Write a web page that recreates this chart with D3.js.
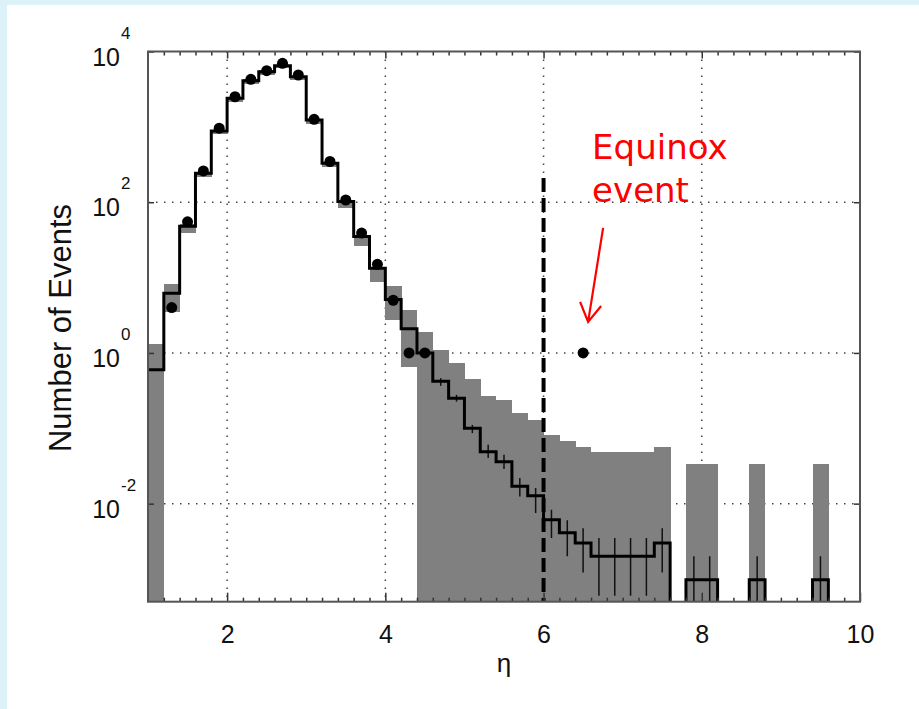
<!DOCTYPE html>
<html>
<head>
<meta charset="utf-8">
<script src="https://cdn.jsdelivr.net/npm/d3@7"></script>
<style>
  body { margin: 0; background: #ddf2f8; }
  svg { display: block; }
  .axis .tick line { stroke: #333; stroke-width: 1.5; }
  .axis text { font-family: "Liberation Sans", Arial, sans-serif; fill: #111; }
</style>
</head>
<body>
<svg id="chart" width="919" height="709"></svg>
<script>
// lower edge of each eta bin (bins are 0.2 wide)
const etaLow = [1.0, 1.2, 1.4, 1.6, 1.8, 2.0, 2.2, 2.4, 2.6, 2.8,
                3.0, 3.2, 3.4, 3.6, 3.8, 4.0, 4.2, 4.4, 4.6, 4.8,
                5.0, 5.2, 5.4, 5.6, 5.8, 6.0, 6.2, 6.4, 6.6, 6.8,
                7.0, 7.2, 7.4, 7.6, 7.8, 8.0, 8.2, 8.4, 8.6, 8.8,
                9.0, 9.2, 9.4, 9.6, 9.8];
const binWidth = 0.2;

// expected events (black histogram), 0 = empty bin
const mcEvents = [0.6, 6.2, 48, 242, 880, 2390, 4100, 5370, 6490, 4630,
                  1230, 329, 102, 35, 13.3, 5.1, 2.1, 1.0, 0.42, 0.25,
                  0.10, 0.049, 0.036, 0.017, 0.0127, 0.0061, 0.0041, 0.0030, 0.0020, 0.0020,
                  0.0020, 0.0020, 0.0030, 0, 0.00098, 0.00098, 0, 0, 0.00098, 0,
                  0, 0, 0.00098, 0, 0];

// grey band (upper / lower edge), 0 = below the axis
const bandHi = [1.31, 8.3, 52, 255, 920, 2500, 4300, 5600, 6700, 4800,
                1280, 340, 106, 37, 14, 7.7, 3.7, 1.92, 1.08, 0.73,
                0.45, 0.27, 0.234, 0.159, 0.13, 0.082, 0.067, 0.057, 0.048, 0.048,
                0.048, 0.048, 0.057, 0, 0.034, 0.034, 0, 0, 0.034, 0,
                0, 0, 0.034, 0, 0];
const bandLo = [0, 3.5, 39, 215, 800, 2150, 3750, 4950, 6000, 4250,
                1100, 290, 83, 26, 8.7, 2.75, 0.65, 0, 0, 0,
                0, 0, 0, 0, 0, 0, 0, 0, 0, 0,
                0, 0, 0, 0, 0, 0, 0, 0, 0, 0,
                0, 0, 0, 0, 0];

// statistical error on the expectation (null = not drawn)
const errHi = [null, null, null, null, null, null, null, null, null, null,
               null, null, null, null, null, null, null, null, 0.463, 0.278,
               0.111, 0.0604, 0.0446, 0.0219, 0.0161, 0.0083, 0.006, 0.0047, 0.0035, 0.0035,
               0.0035, 0.0035, 0.0047, null, 0.002, 0.002, null, null, 0.002, null,
               null, null, 0.002, null, null];
const errLo = [null, null, null, null, null, null, null, null, null, null,
               null, null, null, null, null, null, null, null, 0.366, 0.226,
               0.0863, 0.0402, 0.0288, 0.01245, 0.0075, 0.0035, 0.002, 0.00122, 0.0006, 0.0006,
               0.0006, 0.0006, 0.00122, null, 0, 0, null, null, 0, null,
               null, null, 0, null, null];

// observed events (null = none)
const observed = [null, 4, 55, 260, 960, 2510, 4280, 5560, 6970, 4875,
                  1260, 347, 107, 39, 15, 5, 1, 1, null, null,
                  null, null, null, null, null, null, null, 1, null, null,
                  null, null, null, null, null, null, null, null, null, null,
                  null, null, null, null, null];

const xTicks = [2, 4, 6, 8, 10];
const yTicks = [1e-2, 1, 1e2, 1e4];
const yExponents = ["-2", "0", "2", "4"];
const etaCut = 6;
const cutTop = 210;   // dashed cut line starts at this many events
const equinoxBin = 27;

const margin = {top: 51.5, right: 59, bottom: 107.3, left: 148};
const svg = d3.select('#chart');
const width = +svg.attr('width') - margin.left - margin.right,
      height = +svg.attr('height') - margin.top - margin.bottom;

svg.append('rect').attr('x', 7).attr('y', 5)
    .attr('width', 919).attr('height', 709).attr('fill', 'white');

const x = d3.scaleLinear().domain([1, 10]).range([0, width]);
const y = d3.scaleLog().domain([0.0005, 1e4]).range([height, 0]);

// empty bins drop below the frame
function yv(v) { return v > 0 ? y(v) : height + 20; }

const g = svg.append('g').attr('transform', `translate(${margin.left},${margin.top})`);

g.append('clipPath').attr('id', 'plot-clip')
    .append('rect').attr('width', width).attr('height', height);

// dotted grid
const grid = g.append('g').attr('stroke', '#444').attr('stroke-width', 1.5)
    .attr('stroke-dasharray', '1.5,6.5');
grid.selectAll('line.gx').data([2, 4, 6, 8]).enter().append('line')
    .attr('x1', function(d) { return x(d); }).attr('x2', function(d) { return x(d); })
    .attr('y1', 0).attr('y2', height);
grid.selectAll('line.gy').data([1e-2, 1, 1e2]).enter().append('line')
    .attr('y1', function(d) { return y(d); }).attr('y2', function(d) { return y(d); })
    .attr('x1', 0).attr('x2', width);

const plot = g.append('g').attr('clip-path', 'url(#plot-clip)');

// grey band
plot.append('g').selectAll('rect')
    .data(etaLow.map(function(e, i) { return {e: e, hi: bandHi[i], lo: bandLo[i]}; })
        .filter(function(d) { return d.hi > 0; }))
    .enter().append('rect')
    .attr('x', function(d) { return x(d.e); })
    .attr('width', function(d) { return x(d.e + binWidth) - x(d.e) + 0.4; })
    .attr('y', function(d) { return y(d.hi); })
    .attr('height', function(d) { return yv(d.lo) - y(d.hi); })
    .attr('fill', '#808080')
    .attr('shape-rendering', 'crispEdges');

// error bars
plot.append('g').selectAll('line')
    .data(etaLow.map(function(e, i) { return {e: e, hi: errHi[i], lo: errLo[i]}; })
        .filter(function(d) { return d.hi !== null; }))
    .enter().append('line')
    .attr('x1', function(d) { return x(d.e + binWidth / 2); })
    .attr('x2', function(d) { return x(d.e + binWidth / 2); })
    .attr('y1', function(d) { return y(d.hi); })
    .attr('y2', function(d) { return yv(d.lo); })
    .attr('stroke', '#111').attr('stroke-width', 1.5);

// expectation histogram
const steps = etaLow.map(function(e, i) { return [e, mcEvents[i]]; });
steps.push([10, mcEvents[mcEvents.length - 1]]);
plot.append('path')
    .datum(steps)
    .attr('d', d3.line()
        .x(function(d) { return x(d[0]); })
        .y(function(d) { return yv(d[1]); })
        .curve(d3.curveStepAfter))
    .attr('fill', 'none').attr('stroke', '#000').attr('stroke-width', 3);

// cut
plot.append('line')
    .attr('x1', x(etaCut)).attr('x2', x(etaCut))
    .attr('y1', y(cutTop)).attr('y2', height)
    .attr('stroke', '#000').attr('stroke-width', 4)
    .attr('stroke-dasharray', '14,6');

// observed events
plot.append('g').selectAll('circle')
    .data(etaLow.map(function(e, i) { return {e: e, n: observed[i]}; })
        .filter(function(d) { return d.n !== null; }))
    .enter().append('circle')
    .attr('cx', function(d) { return x(d.e + binWidth / 2); })
    .attr('cy', function(d) { return y(d.n); })
    .attr('r', 5.5).attr('fill', '#000');

// ticks
const minor = d3.range(1.2, 10, 0.2).filter(function(v) { return Math.abs(v - Math.round(v / 2) * 2) > 0.01; });
g.append('g').attr('class', 'axis').attr('transform', `translate(0,${height})`)
    .call(d3.axisBottom(x).tickValues(minor).tickSize(-4).tickFormat(''))
    .call(function(s) { s.select('.domain').remove(); });
g.append('g').attr('class', 'axis')
    .call(d3.axisTop(x).tickValues(minor).tickSize(-4).tickFormat(''))
    .call(function(s) { s.select('.domain').remove(); });
g.append('g').attr('class', 'axis')
    .call(d3.axisTop(x).tickValues([2, 4, 6, 8]).tickSize(-7).tickFormat(''))
    .call(function(s) { s.select('.domain').remove(); });
g.append('g').attr('class', 'axis').attr('transform', `translate(0,${height})`)
    .call(d3.axisBottom(x).tickValues(xTicks).tickSize(-9).tickPadding(24).tickFormat(d3.format('d')))
    .call(function(s) {
        s.select('.domain').remove();
        s.selectAll('text').attr('font-size', 25);
    });
g.append('g').attr('class', 'axis')
    .call(d3.axisLeft(y).tickValues(yTicks).tickSize(-6).tickFormat(''))
    .call(function(s) { s.select('.domain').remove(); });
g.append('g').attr('class', 'axis').attr('transform', `translate(${width},0)`)
    .call(d3.axisRight(y).tickValues(yTicks).tickSize(-6).tickFormat(''))
    .call(function(s) { s.select('.domain').remove(); });

// y labels 10^n
const yl = g.append('g').attr('font-family', '"Liberation Sans", Arial, sans-serif').attr('fill', '#111');
yl.selectAll('text.base').data(yTicks).enter().append('text')
    .attr('x', -28).attr('y', function(d) { return y(d) + 14; })
    .attr('text-anchor', 'end').attr('font-size', 25)
    .text('10');
yl.selectAll('text.exp').data(yTicks).enter().append('text')
    .attr('x', -27).attr('y', function(d) { return y(d) - 13; })
    .attr('font-size', 17)
    .text(function(d, i) { return yExponents[i]; });

// frame
g.append('rect').attr('width', width).attr('height', height)
    .attr('fill', 'none').attr('stroke', '#555').attr('stroke-width', 2);

// axis titles
svg.append('text')
    .attr('transform', 'translate(71,328) rotate(-90)')
    .attr('text-anchor', 'middle')
    .attr('font-family', '"Liberation Sans", Arial, sans-serif')
    .attr('font-size', 31).attr('fill', '#111')
    .text('Number of Events');
svg.append('text')
    .attr('x', margin.left + x(5.5)).attr('y', 672)
    .attr('text-anchor', 'middle')
    .attr('font-family', '"Liberation Sans", Arial, sans-serif')
    .attr('font-size', 26).attr('fill', '#111')
    .text('η');

// annotation
const ex = margin.left + x(etaLow[equinoxBin] + binWidth / 2),
      ey = margin.top + y(observed[equinoxBin]);
const note = svg.append('g').attr('fill', 'red')
    .attr('font-family', '"DejaVu Sans", Verdana, sans-serif').attr('font-size', 34);
note.append('text').attr('x', ex + 9).attr('y', 159).text('Equinox');
note.append('text').attr('x', ex + 9).attr('y', 202).text('event');
const tip = [ex + 5, ey - 31];
svg.append('path')
    .attr('d', `M${ex + 20},${ey - 125}L${tip[0]},${tip[1]}M${tip[0] - 8},${tip[1] - 20}L${tip[0]},${tip[1]}L${tip[0] + 13},${tip[1] - 16}`)
    .attr('fill', 'none').attr('stroke', 'red').attr('stroke-width', 2.2);
</script>
</body>
</html>
